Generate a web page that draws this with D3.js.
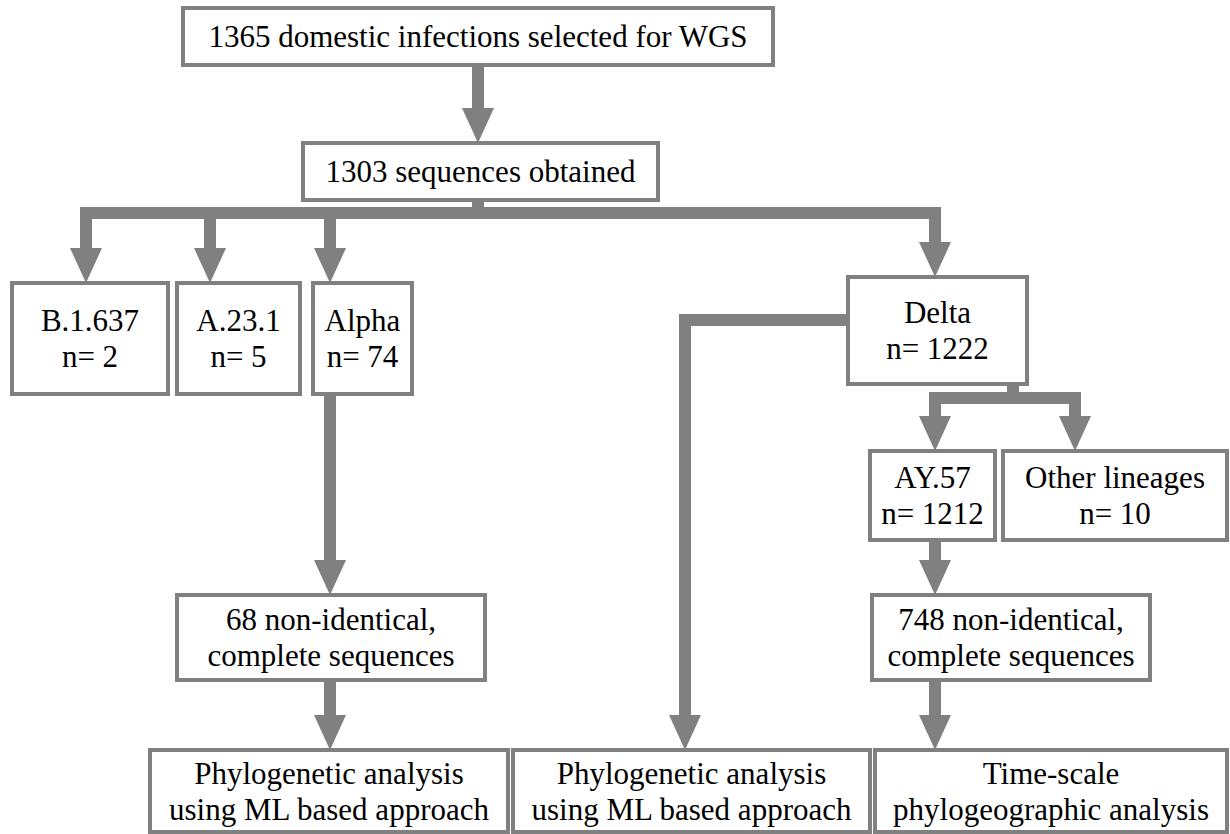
<!DOCTYPE html>
<html>
<head>
<meta charset="utf-8">
<script src="https://cdn.jsdelivr.net/npm/d3@7"></script>
<style>
  html, body { margin: 0; padding: 0; background: #fff; }
  svg { display: block; }
</style>
</head>
<body>
<div id="chart"></div>
<script>
// node ids and their text lines
const nodeIds = ["wgs", "seq", "b1637", "a231", "alpha", "delta", "ay57", "other", "alphaNi", "ay57Ni", "mlAlpha", "mlDelta", "timeScale"];
const nodeLines = [
  ["1365 domestic infections selected for WGS"],
  ["1303 sequences obtained"],
  ["B.1.637", "n= 2"],
  ["A.23.1", "n= 5"],
  ["Alpha", "n= 74"],
  ["Delta", "n= 1222"],
  ["AY.57", "n= 1212"],
  ["Other lineages", "n= 10"],
  ["68 non-identical,", "complete sequences"],
  ["748 non-identical,", "complete sequences"],
  ["Phylogenetic analysis", "using ML based approach"],
  ["Phylogenetic analysis", "using ML based approach"],
  ["Time-scale", "phylogeographic analysis"],
];
// flow edges: source -> target
const edgeSources = ["wgs", "seq", "seq", "seq", "seq", "delta", "delta", "delta", "alpha", "ay57", "alphaNi", "ay57Ni"];
const edgeTargets = ["seq", "b1637", "a231", "alpha", "delta", "mlDelta", "ay57", "other", "alphaNi", "ay57Ni", "mlAlpha", "timeScale"];

const width = 1230;
const height = 834;
const grey = "#808080";
const shaft = 12;
const headW = 32;
const headL = 35;
const fontSize = 31;
const lineGap = 36;

// box geometry [x0, y0, x1, y1]
const layout = {
  wgs: [183, 8, 773, 65],
  seq: [303, 143, 658, 200],
  b1637: [12, 283, 168, 394],
  a231: [177, 283, 300, 394],
  alpha: [313, 283, 412, 394],
  delta: [848, 277, 1027, 384],
  ay57: [870, 451, 995, 540],
  other: [1003, 451, 1227, 540],
  alphaNi: [177, 595, 485, 680],
  ay57Ni: [872, 595, 1150, 680],
  mlAlpha: [150, 750, 508, 832],
  mlDelta: [513, 750, 870, 832],
  timeScale: [875, 750, 1227, 832],
};

// connector routes (elbows)
const busY = 213;
const deltaBusY = 398;
const deltaSideY = 320;
function route(s, t) {
  const a = layout[s], b = layout[t];
  if (s === "seq") {
    const x = t === "b1637" ? 86 : t === "a231" ? 210 : t === "alpha" ? 330 : 935;
    return [[478, a[3]], [478, busY], [x, busY], [x, b[1]]];
  }
  if (s === "delta" && t === "mlDelta") {
    return [[a[0], deltaSideY], [685, deltaSideY], [685, b[1]]];
  }
  if (s === "delta") {
    const x = t === "ay57" ? 935 : 1075;
    return [[1013, a[3]], [1013, deltaBusY], [x, deltaBusY], [x, b[1]]];
  }
  if (s === "wgs") return [[478, a[3]], [478, b[1]]];
  const x = s === "alpha" || s === "alphaNi" ? 330 : 935;
  return [[x, a[3]], [x, b[1]]];
}

const svg = d3.select("#chart").append("svg")
  .attr("width", width)
  .attr("height", height);

const edges = edgeSources.map((s, i) => ({ s, t: edgeTargets[i], pts: route(s, edgeTargets[i]) }));

const line = d3.line();

// shaft stops where the head begins
svg.append("g")
  .selectAll("path")
  .data(edges)
  .join("path")
  .attr("d", (d) => {
    const p = d.pts.map((q) => q.slice());
    p[p.length - 1][1] -= headL - 1;
    return line(p);
  })
  .attr("fill", "none")
  .attr("stroke", grey)
  .attr("stroke-width", shaft)
  .attr("stroke-linejoin", "miter")
  .attr("stroke-linecap", "square");

svg.append("g")
  .selectAll("path")
  .data(edges)
  .join("path")
  .attr("d", (d) => {
    const [x, y] = d.pts[d.pts.length - 1];
    return `M${x - headW / 2},${y - headL}L${x + headW / 2},${y - headL}L${x},${y}Z`;
  })
  .attr("fill", grey);

const nodes = nodeIds.map((id, i) => ({ id, lines: nodeLines[i], box: layout[id] }));

const g = svg.append("g")
  .selectAll("g")
  .data(nodes)
  .join("g");

g.append("rect")
  .attr("x", (d) => d.box[0])
  .attr("y", (d) => d.box[1])
  .attr("width", (d) => d.box[2] - d.box[0])
  .attr("height", (d) => d.box[3] - d.box[1])
  .attr("fill", "#fff")
  .attr("stroke", grey)
  .attr("stroke-width", 4);

// one text per line, serif like the original
g.selectAll("text")
  .data((d) => d.lines.map((l, i) => ({ l, i, d })))
  .join("text")
  .style("font-family", '"Liberation Serif"')
  .style("font-size", fontSize + "px")
  .attr("fill", "#000")
  .attr("text-anchor", "middle")
  .attr("x", (e) => (e.d.box[0] + e.d.box[2]) / 2)
  .attr("y", (e) => {
    const cy = (e.d.box[1] + e.d.box[3]) / 2;
    const n = e.d.lines.length;
    return cy + (e.i - (n - 1) / 2) * lineGap;
  })
  .attr("dy", "0.35em")
  .text((e) => e.l);
</script>
</body>
</html>
